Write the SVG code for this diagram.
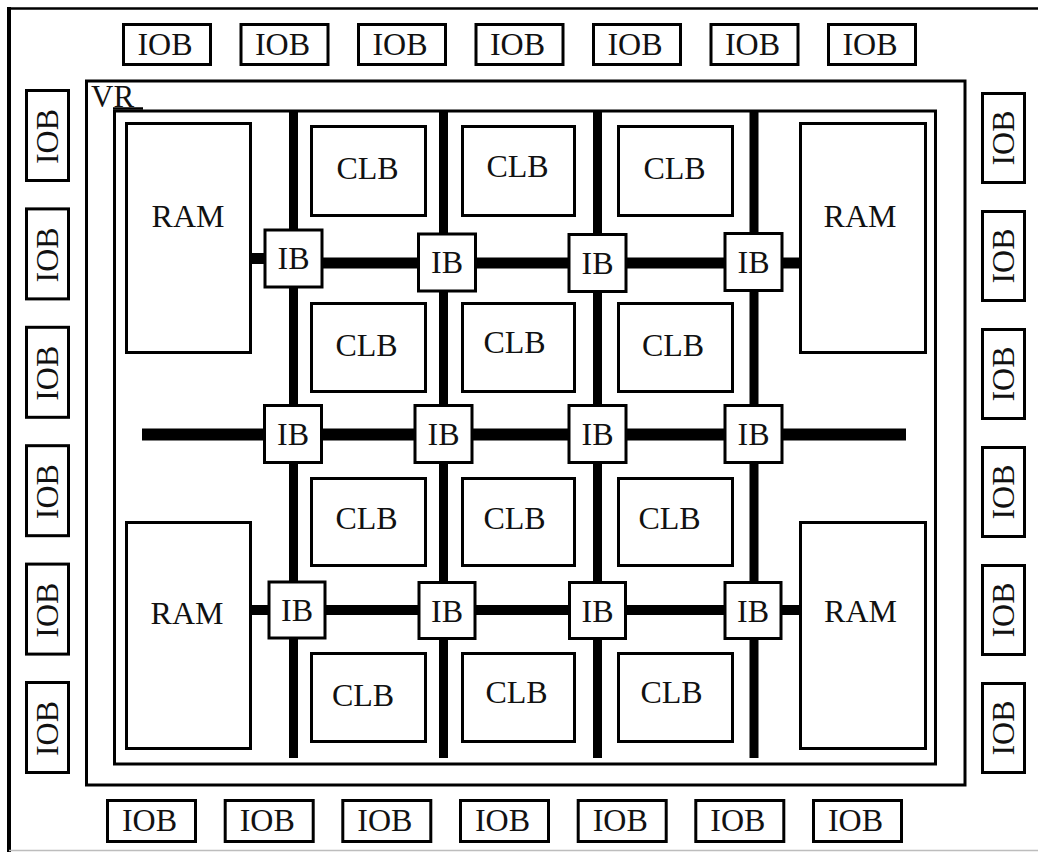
<svg xmlns="http://www.w3.org/2000/svg" width="1038" height="852" viewBox="0 0 1038 852">
<style>
.box{fill:#fff;stroke:#000;stroke-width:3}
.frame{fill:none;stroke:#000;stroke-width:3}
.t{font-family:"Liberation Serif","Times New Roman",serif;font-size:32px;fill:#111;text-anchor:middle}
.vr{font-family:"Liberation Serif","Times New Roman",serif;font-size:31px;fill:#111}
.bus{stroke:#000;fill:none;stroke-linecap:butt}
</style>
<rect width="1038" height="852" fill="#fff"/>
<g id="chip-frame">
<line x1="9" y1="7" x2="9" y2="852" stroke="#000" stroke-width="4"/>
<line x1="9" y1="8.5" x2="1038" y2="8.5" stroke="#000" stroke-width="2.5"/>
<line x1="9" y1="850.5" x2="1038" y2="850.5" stroke="#bdbdbd" stroke-width="1.5"/>
</g>
<g id="vr-region">
<rect class="frame" x="86.5" y="81" width="878.5" height="704"/>
<rect class="frame" x="114.5" y="111" width="821" height="653"/>
<text class="vr" x="91" y="107">VR</text>
<line x1="113" y1="108.5" x2="143" y2="108.5" stroke="#000" stroke-width="2.5"/>
</g>
<g id="connectors">
<line class="bus" x1="293.5" y1="111" x2="293.5" y2="758" stroke-width="9"/>
<line class="bus" x1="443.5" y1="111" x2="443.5" y2="758" stroke-width="9"/>
<line class="bus" x1="597.5" y1="111" x2="597.5" y2="758" stroke-width="9"/>
<line class="bus" x1="754" y1="111" x2="754" y2="758" stroke-width="9"/>
<line class="bus" x1="250" y1="258.5" x2="294" y2="258.5" stroke-width="11"/>
<line class="bus" x1="294" y1="263" x2="800" y2="263" stroke-width="11"/>
<line class="bus" x1="142" y1="434.5" x2="906" y2="434.5" stroke-width="12"/>
<line class="bus" x1="250" y1="610" x2="800" y2="610" stroke-width="10"/>
</g>
<g id="ram-tl"><rect class="box" x="126.5" y="123.5" width="124" height="229"/><text class="t" x="188" y="227">RAM</text></g>
<g id="ram-bl"><rect class="box" x="126.5" y="522.5" width="124" height="226"/><text class="t" x="187" y="624">RAM</text></g>
<g id="ram-tr"><rect class="box" x="800.5" y="123.5" width="125" height="229"/><text class="t" x="860" y="227">RAM</text></g>
<g id="ram-br"><rect class="box" x="800.5" y="522.5" width="125" height="226"/><text class="t" x="860.5" y="622">RAM</text></g>
<g id="clb-1-1"><rect class="box" x="311.5" y="126.5" width="114" height="89"/><text class="t" x="367.5" y="179">CLB</text></g>
<g id="clb-1-2"><rect class="box" x="462.5" y="126.5" width="112" height="89"/><text class="t" x="517.5" y="177">CLB</text></g>
<g id="clb-1-3"><rect class="box" x="618.5" y="126.5" width="114" height="89"/><text class="t" x="674.5" y="179">CLB</text></g>
<g id="clb-2-1"><rect class="box" x="311.5" y="303.5" width="114" height="88"/><text class="t" x="366.5" y="356">CLB</text></g>
<g id="clb-2-2"><rect class="box" x="462.5" y="303.5" width="112" height="88"/><text class="t" x="514.5" y="353">CLB</text></g>
<g id="clb-2-3"><rect class="box" x="618.5" y="303.5" width="114" height="88"/><text class="t" x="673" y="356">CLB</text></g>
<g id="clb-3-1"><rect class="box" x="311.5" y="478.5" width="114" height="87"/><text class="t" x="366.5" y="529">CLB</text></g>
<g id="clb-3-2"><rect class="box" x="462.5" y="478.5" width="112" height="87"/><text class="t" x="514.5" y="529">CLB</text></g>
<g id="clb-3-3"><rect class="box" x="618.5" y="478.5" width="114" height="87"/><text class="t" x="669.5" y="529">CLB</text></g>
<g id="clb-4-1"><rect class="box" x="311.5" y="653.5" width="114" height="88"/><text class="t" x="363" y="706">CLB</text></g>
<g id="clb-4-2"><rect class="box" x="462.5" y="653.5" width="112" height="88"/><text class="t" x="516.5" y="703">CLB</text></g>
<g id="clb-4-3"><rect class="box" x="618.5" y="653.5" width="114" height="88"/><text class="t" x="671.5" y="703">CLB</text></g>
<g id="ib-1-1"><rect class="box" x="265" y="230" width="57" height="57"/><text class="t" x="293.5" y="269">IB</text></g>
<g id="ib-1-2"><rect class="box" x="418.5" y="234" width="57" height="57"/><text class="t" x="447" y="273">IB</text></g>
<g id="ib-1-3"><rect class="box" x="569" y="234.5" width="57" height="57"/><text class="t" x="597.5" y="273.5">IB</text></g>
<g id="ib-1-4"><rect class="box" x="725" y="233.5" width="57" height="57"/><text class="t" x="753.5" y="272.5">IB</text></g>
<g id="ib-2-1"><rect class="box" x="264.5" y="405.5" width="57" height="57"/><text class="t" x="293" y="444.5">IB</text></g>
<g id="ib-2-2"><rect class="box" x="415" y="405.5" width="57" height="57"/><text class="t" x="443.5" y="444.5">IB</text></g>
<g id="ib-2-3"><rect class="box" x="569" y="405.5" width="57" height="57"/><text class="t" x="597.5" y="444.5">IB</text></g>
<g id="ib-2-4"><rect class="box" x="725" y="405.5" width="57" height="57"/><text class="t" x="753.5" y="444.5">IB</text></g>
<g id="ib-3-1"><rect class="box" x="269" y="582" width="56" height="56"/><text class="t" x="297" y="621">IB</text></g>
<g id="ib-3-2"><rect class="box" x="419" y="582.5" width="56" height="56"/><text class="t" x="447" y="621.5">IB</text></g>
<g id="ib-3-3"><rect class="box" x="569.5" y="582.5" width="56" height="56"/><text class="t" x="597.5" y="621.5">IB</text></g>
<g id="ib-3-4"><rect class="box" x="725" y="582.5" width="56" height="56"/><text class="t" x="753" y="621.5">IB</text></g>
<g id="iob-top-1"><rect class="box" x="123.5" y="24.5" width="87" height="40"/><text class="t" x="165" y="55">IOB</text></g>
<g id="iob-top-2"><rect class="box" x="241" y="24.5" width="87" height="40"/><text class="t" x="282.5" y="55">IOB</text></g>
<g id="iob-top-3"><rect class="box" x="358.5" y="24.5" width="87" height="40"/><text class="t" x="400" y="55">IOB</text></g>
<g id="iob-top-4"><rect class="box" x="476" y="24.5" width="87" height="40"/><text class="t" x="517.5" y="55">IOB</text></g>
<g id="iob-top-5"><rect class="box" x="593.5" y="24.5" width="87" height="40"/><text class="t" x="635" y="55">IOB</text></g>
<g id="iob-top-6"><rect class="box" x="711" y="24.5" width="87" height="40"/><text class="t" x="752.5" y="55">IOB</text></g>
<g id="iob-top-7"><rect class="box" x="828.5" y="24.5" width="87" height="40"/><text class="t" x="870" y="55">IOB</text></g>
<g id="iob-bottom-1"><rect class="box" x="107.5" y="800.5" width="88" height="41"/><text class="t" x="149.5" y="831">IOB</text></g>
<g id="iob-bottom-2"><rect class="box" x="225.2" y="800.5" width="88" height="41"/><text class="t" x="267.2" y="831">IOB</text></g>
<g id="iob-bottom-3"><rect class="box" x="342.8" y="800.5" width="88" height="41"/><text class="t" x="384.8" y="831">IOB</text></g>
<g id="iob-bottom-4"><rect class="box" x="460.5" y="800.5" width="88" height="41"/><text class="t" x="502.5" y="831">IOB</text></g>
<g id="iob-bottom-5"><rect class="box" x="578.2" y="800.5" width="88" height="41"/><text class="t" x="620.2" y="831">IOB</text></g>
<g id="iob-bottom-6"><rect class="box" x="695.8" y="800.5" width="88" height="41"/><text class="t" x="737.8" y="831">IOB</text></g>
<g id="iob-bottom-7"><rect class="box" x="813.5" y="800.5" width="88" height="41"/><text class="t" x="855.5" y="831">IOB</text></g>
<g id="iob-left-1"><rect class="box" x="26.5" y="90.5" width="42" height="90"/><text class="t" transform="translate(58 136.5) rotate(-90)">IOB</text></g>
<g id="iob-left-2"><rect class="box" x="26.5" y="208.9" width="42" height="90"/><text class="t" transform="translate(58 254.9) rotate(-90)">IOB</text></g>
<g id="iob-left-3"><rect class="box" x="26.5" y="327.3" width="42" height="90"/><text class="t" transform="translate(58 373.3) rotate(-90)">IOB</text></g>
<g id="iob-left-4"><rect class="box" x="26.5" y="445.7" width="42" height="90"/><text class="t" transform="translate(58 491.7) rotate(-90)">IOB</text></g>
<g id="iob-left-5"><rect class="box" x="26.5" y="564.1" width="42" height="90"/><text class="t" transform="translate(58 610.1) rotate(-90)">IOB</text></g>
<g id="iob-left-6"><rect class="box" x="26.5" y="682.5" width="42" height="90"/><text class="t" transform="translate(58 728.5) rotate(-90)">IOB</text></g>
<g id="iob-right-1"><rect class="box" x="982.5" y="93.5" width="42" height="89"/><text class="t" transform="translate(1014 138) rotate(-90)">IOB</text></g>
<g id="iob-right-2"><rect class="box" x="982.5" y="211.5" width="42" height="89"/><text class="t" transform="translate(1014 256) rotate(-90)">IOB</text></g>
<g id="iob-right-3"><rect class="box" x="982.5" y="329.5" width="42" height="89"/><text class="t" transform="translate(1014 374) rotate(-90)">IOB</text></g>
<g id="iob-right-4"><rect class="box" x="982.5" y="447.5" width="42" height="89"/><text class="t" transform="translate(1014 492) rotate(-90)">IOB</text></g>
<g id="iob-right-5"><rect class="box" x="982.5" y="565.5" width="42" height="89"/><text class="t" transform="translate(1014 610) rotate(-90)">IOB</text></g>
<g id="iob-right-6"><rect class="box" x="982.5" y="683.5" width="42" height="89"/><text class="t" transform="translate(1014 728) rotate(-90)">IOB</text></g>
</svg>
